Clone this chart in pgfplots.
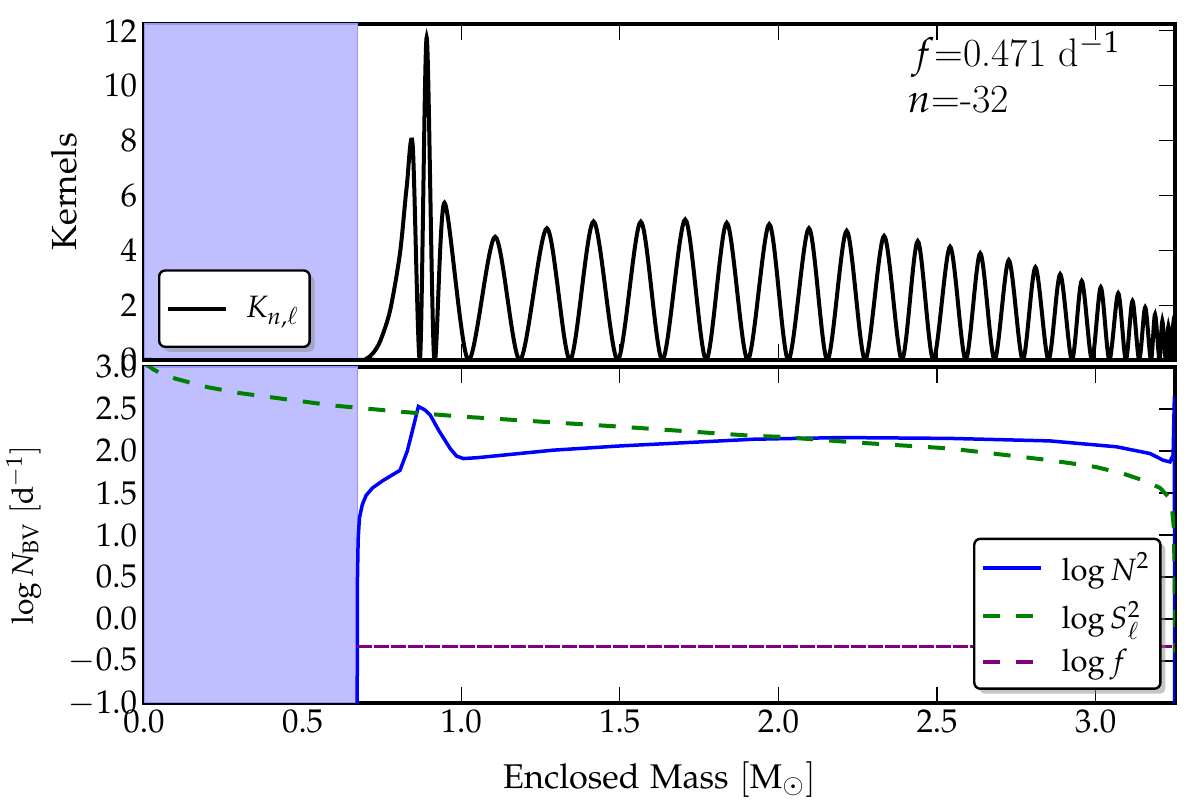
\documentclass[border=0pt]{standalone}
\usepackage{mathpazo}
\renewcommand{\rmdefault}{ppl}
\usepackage{pgfplots}
\pgfplotsset{compat=1.18}
\usetikzlibrary{shadows}
\makeatletter
\tikzset{no preactions/.code={\let\tikz@preactions\pgfutil@empty}}
\makeatother
\definecolor{shadeblue}{RGB}{191,191,255}
\definecolor{shadeedge}{RGB}{150,150,255}
\definecolor{mplgreen}{RGB}{0,128,0}
\definecolor{mplpurple}{RGB}{128,0,128}
\definecolor{mplblue}{RGB}{0,0,255}
\pgfplotsset{
  panel/.style={
    scale only axis,
    width=515.5bp, height=168bp,
    xmin=0, xmax=3.25,
    axis line style={line width=1.6bp},
    tick align=inside, tick pos=both,
    major tick length=8bp,
    every tick/.style={line width=0.6bp, black},
    xtick={0,0.5,...,3.0},
    every tick label/.append style={font=\fontsize{16.5}{19}\selectfont},
    legend cell align=left,
    legend image code/.code={%
      \draw[no preactions, ##1] (0bp,0bp) -- (29bp,0bp);},
    legend style={font=\fontsize{15.5}{18}\selectfont, draw=black, line width=1.2bp,
      rounded corners=3bp, fill=white,
      drop shadow={shadow xshift=2.5bp, shadow yshift=-2.5bp, fill=black!45},
      inner xsep=3.5bp, inner ysep=5bp, row sep=5bp,
      /tikz/every odd column/.append style={column sep=7bp}},
  }
}
\begin{document}
\begin{tikzpicture}
\useasboundingbox (0,0) rectangle (600bp,400bp);
% ---------------- top panel ----------------
\begin{axis}[panel,
  at={(72bp,220bp)}, anchor=south west,
  ymin=0, ymax=12.25,
  ytick={0,2,...,12},
  xticklabels={},
  ylabel={$\mathrm{Kernels}$},
  ylabel style={at={(rel axis cs:-0.065,0.5)}, anchor=south, inner sep=0pt,
    font=\fontsize{17.5}{21}\selectfont, text=black},
  legend style={at={(0.0136,0.0357)}, anchor=south west, inner ysep=11bp},
]
\addplot[fill=shadeblue, draw=shadeedge, line width=0.8bp, forget plot]
  coordinates {(0,0) (0.673,0) (0.673,12.25) (0,12.25)} -- cycle;
\addplot[black, line width=2bp, smooth, tension=0.5] coordinates {
(0,0) (0.68,0) (0.70,0.04) (0.722,0.25) (0.745,0.7) (0.776,1.82) (0.807,3.9) (0.828,6.3) (0.847,7.83)
(0.870,0) (0.891,11.76) (0.915,0) (0.947,5.73) (1.022,0) (1.107,4.49) (1.185,0)
(1.270,4.80) (1.343,0) (1.417,5.05) (1.493,0) (1.566,5.04) (1.634,0) (1.706,5.12)
(1.772,0) (1.837,5.00) (1.903,0) (1.971,4.95) (2.031,0) (2.096,4.80) (2.154,0)
(2.215,4.71) (2.273,0) (2.333,4.52) (2.389,0) (2.439,4.33) (2.488,0) (2.541,4.13)
(2.590,0) (2.636,3.89) (2.681,0) (2.726,3.64) (2.770,0) (2.810,3.38) (2.851,0)
(2.888,3.13) (2.925,0) (2.956,2.88) (2.988,0) (3.016,2.65) (3.043,0) (3.071,2.43)
(3.095,0) (3.116,2.15) (3.137,0) (3.156,1.92) (3.174,0) (3.187,1.66) (3.201,0)
(3.210,1.42) (3.221,0) (3.229,1.21) (3.237,0) (3.242,1.1) (3.247,0) (3.25,1.2)
};
\addlegendentry{$K_{n,\ell}$}
\node[anchor=base west, inner sep=0pt, font=\fontsize{20}{24}\selectfont]
  at (rel axis cs:0.7446,0.873) {$f$=0.471 d$^{-1}$};
\node[anchor=base west, inner sep=0pt, font=\fontsize{20}{24}\selectfont]
  at (rel axis cs:0.741,0.736) {$n$=-32};
\end{axis}
% ---------------- bottom panel ----------------
\begin{axis}[panel,
  at={(72bp,48.5bp)}, anchor=south west,
  ymin=-1, ymax=3,
  ytick={-1,-0.5,...,3},
  xticklabel style={/pgf/number format/.cd, fixed, fixed zerofill, precision=1},
  yticklabel style={/pgf/number format/.cd, fixed, fixed zerofill, precision=1},
  xlabel={$\mathrm{Enclosed\ Mass\ [M_\odot]}$},
  xlabel style={at={(rel axis cs:0.5,-0.253)}, anchor=base, inner sep=0pt,
    font=\fontsize{17.2}{21}\selectfont, text=black},
  ylabel={$\log N_{\mathrm{BV}}\ [\mathrm{d}^{-1}]$},
  ylabel style={at={(rel axis cs:-0.0993,0.5)}, anchor=south, inner sep=0pt,
    font=\fontsize{15}{18}\selectfont, text=black},
  legend style={at={(0.987,0.039)}, anchor=south east},
]
\addplot[fill=shadeblue, draw=shadeedge, line width=0.8bp, forget plot]
  coordinates {(0,-1) (0.673,-1) (0.673,3) (0,3)} -- cycle;
\addplot[mplblue, line width=1.75bp] coordinates {
(0.672,-1.0) (0.673,0.5) (0.675,0.94) (0.679,1.2) (0.688,1.36) (0.70,1.47)
(0.72,1.56) (0.754,1.65) (0.785,1.72) (0.807,1.77) (0.83,2.0) (0.85,2.3)
(0.865,2.53) (0.885,2.49) (0.902,2.43) (0.93,2.24) (0.965,2.03) (0.985,1.94)
(1.007,1.91) (1.05,1.92) (1.29,2.01) (1.5,2.06) (1.921,2.14) (2.2,2.16)
(2.54,2.15) (2.856,2.12) (3.066,2.05) (3.171,1.97) (3.213,1.89) (3.234,1.87)
(3.244,1.95) (3.248,2.65) (3.249,-1.0)
};
\addlegendentry{$\log N^2$}
\addplot[mplgreen, line width=2bp, dash pattern=on 8.5bp off 8bp] coordinates {
(0.0,3.05) (0.03,2.97) (0.05,2.93) (0.1,2.86) (0.15,2.81) (0.2,2.76) (0.3,2.69)
(0.4,2.64) (0.5,2.59) (0.6,2.54) (0.66,2.52) (0.8,2.47) (1.0,2.41) (1.29,2.34)
(1.5,2.29) (1.92,2.18) (2.0,2.17) (2.25,2.10) (2.54,2.03) (2.856,1.89) (3.0,1.81)
(3.087,1.73) (3.15,1.65) (3.203,1.56) (3.230,1.45) (3.240,1.34) (3.246,1.1)
(3.249,0.5) (3.2495,-0.4)
};
\addlegendentry{$\log S_\ell^2$}
\addplot[mplpurple, line width=1.2bp, dash pattern=on 7.5bp off 1bp,
  legend image post style={line width=2.2bp, dash pattern=on 8.5bp off 8bp}] coordinates {
(0.673,-0.327) (3.25,-0.327)
};
\addlegendentry{$\log f$}
\end{axis}
\end{tikzpicture}
\end{document}
